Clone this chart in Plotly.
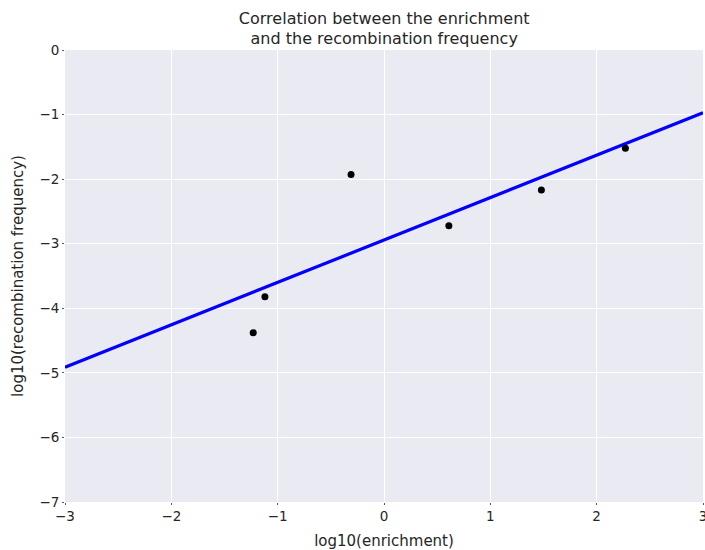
import numpy as np
import plotly.graph_objects as go

log_enrichment = [-1.23, -1.12, -0.31, 0.61, 1.48, 2.27]
log_recomb = [-4.38, -3.82, -1.93, -2.72, -2.17, -1.52]
x_range = [-3, 3]
y_range = [-7, 0]

slope, intercept = np.polyfit(log_enrichment, log_recomb, 1)
fit_x = np.array(x_range, dtype=float)
fit_y = slope * fit_x + intercept

fig = go.Figure()
fig.add_trace(go.Scatter(x=fit_x, y=fit_y, mode="lines",
                         line=dict(color="#0000ff", width=3.2), showlegend=False))
fig.add_trace(go.Scatter(x=log_enrichment, y=log_recomb, mode="markers",
                         marker=dict(color="black", size=7), showlegend=False))

font = "DejaVu Sans, sans-serif"
fig.update_layout(
    width=705, height=550,
    margin=dict(l=65, r=2, t=50, b=48),
    paper_bgcolor="white", plot_bgcolor="#EAEAF2",
    font=dict(family=font, size=13, color="#262626"),
    title=dict(text="Correlation between the enrichment<br>and the recombination frequency",
               x=0.545, xanchor="center", yref="container", y=0.957, yanchor="top",
               font=dict(size=16, color="#262626")),
    xaxis=dict(range=x_range, dtick=1, showgrid=True, gridcolor="white", gridwidth=1.3,
               zeroline=False, showline=False, ticks="outside", ticklen=2, tickcolor="#555",
               ticklabeloverflow="allow", automargin=False,
               title=dict(text="log10(enrichment)", standoff=12, font=dict(size=15)),
               tickfont=dict(size=13.5)),
    yaxis=dict(range=y_range, dtick=1, showgrid=True, gridcolor="white", gridwidth=1.3,
               zeroline=False, showline=False, ticks="outside", ticklen=2, tickcolor="#555",
               automargin=False,
               title=dict(text="log10(recombination frequency)", standoff=12, font=dict(size=15)),
               tickfont=dict(size=13.5)),
)
fig.write_html("out.html")
